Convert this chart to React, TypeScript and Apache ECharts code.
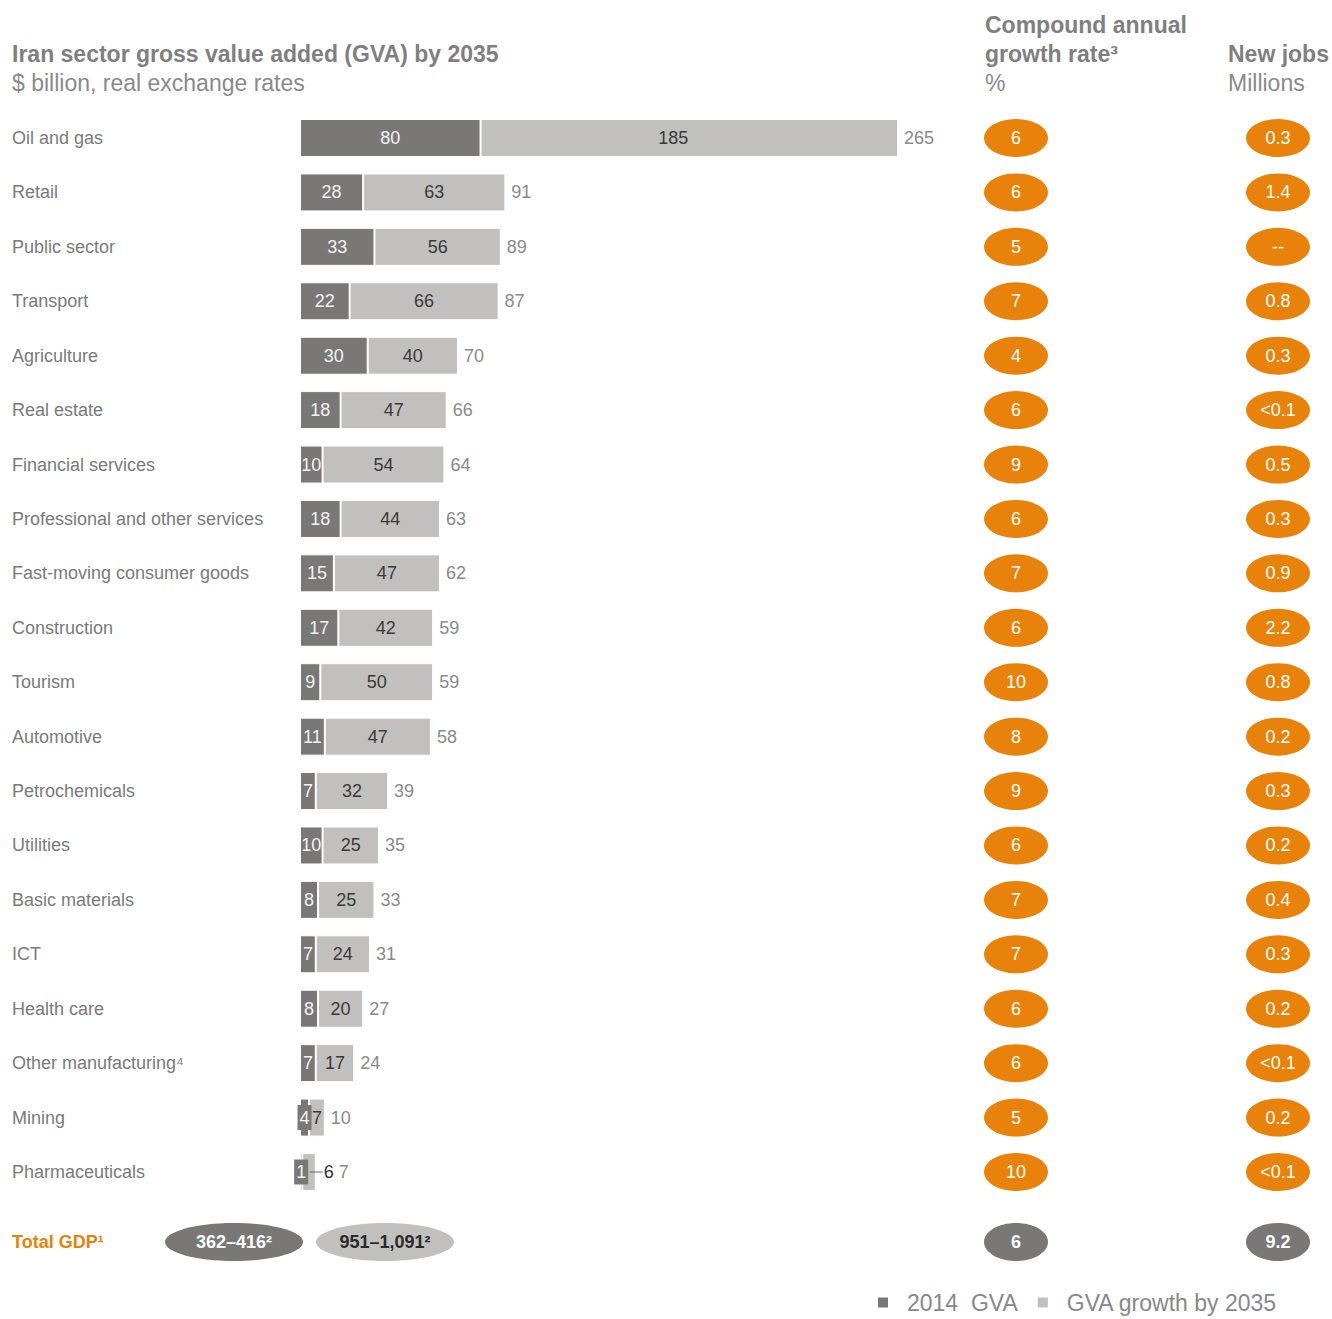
import React, { useEffect, useRef } from "react";
import * as echarts from "echarts";

const sectors = [
  "Oil and gas",
  "Retail",
  "Public sector",
  "Transport",
  "Agriculture",
  "Real estate",
  "Financial services",
  "Professional and other services",
  "Fast-moving consumer goods",
  "Construction",
  "Tourism",
  "Automotive",
  "Petrochemicals",
  "Utilities",
  "Basic materials",
  "ICT",
  "Health care",
  "Other manufacturing⁴",
  "Mining",
  "Pharmaceuticals",
];
const gva2014 = [80, 28, 33, 22, 30, 18, 10, 18, 15, 17, 9, 11, 7, 10, 8, 7, 8, 7, 4, 1];
const gvaGrowth = [185, 63, 56, 66, 40, 47, 54, 44, 47, 42, 50, 47, 32, 25, 25, 24, 20, 17, 7, 6];
const gva2035 = [265, 91, 89, 87, 70, 66, 64, 63, 62, 59, 59, 58, 39, 35, 33, 31, 27, 24, 10, 7];
const cagr = ["6", "6", "5", "7", "4", "6", "9", "6", "7", "6", "10", "8", "9", "6", "7", "7", "6", "6", "5", "10"];
const newJobs = ["0.3", "1.4", "--", "0.8", "0.3", "<0.1", "0.5", "0.3", "0.9", "2.2", "0.8", "0.2", "0.3", "0.2", "0.4", "0.3", "0.2", "<0.1", "0.2", "<0.1"];
const totalLabels = ["362–416²", "951–1,091²"];
const totalCagr = "6";
const totalJobs = "9.2";
const legendNames = ["2014  GVA", "GVA growth by 2035"];

const DARK = "#7a7876";
const LIGHT = "#c1c0be";
const ORANGE = "#e8820a";
const FONT = "'Liberation Sans', Arial, Helvetica, sans-serif";

export default function App() {
  const ref = useRef<HTMLDivElement>(null);

  useEffect(() => {
    document.body.style.margin = "0";
    const chart = echarts.init(ref.current!, null, { renderer: "svg" });

    const top = 110.8;
    const height = 1088.4;
    const n = sectors.length;

    const darkData = gva2014.map((v) => {
      const small = v <= 4;
      return {
        value: v,
        label: small
          ? {
              show: true,
              position: "inside",
              backgroundColor: DARK,
              padding: [4, 2, 3, 2],
              color: "#f2f2f2",
            }
          : undefined,
      };
    });

    const lightData = gvaGrowth.map((v, i) => {
      if (i === n - 1) {
        return {
          value: v,
          label: {
            show: true,
            position: "right",
            distance: -6,
            formatter: "{ln|}{v|" + v + "}",
            rich: {
              ln: { width: 13, height: 1, backgroundColor: "#666" },
              v: { fontSize: 18, color: "#333", fontFamily: FONT, padding: [0, 0, 0, 1] },
            },
          },
        };
      }
      if (i === 0) {
        return { value: v, label: { offset: [-16, 0] } };
      }
      return { value: v };
    });

    const totalData = gva2035.map((_, i) => ({
      value: 0,
      label: i === n - 1 ? { offset: [17, 0] } : undefined,
    }));

    const scatterData = sectors.map((_, i) => [0, i]);

    const ellipseScatter = (idx: number, texts: string[]) => ({
      type: "scatter",
      xAxisIndex: idx,
      yAxisIndex: idx,
      symbol: "circle",
      symbolSize: [64, 38],
      itemStyle: { color: ORANGE, opacity: 1 },
      label: {
        show: true,
        position: "inside",
        color: "#fff",
        fontSize: 18,
        fontFamily: FONT,
        formatter: (p: any) => texts[p.dataIndex],
      },
      data: scatterData,
      silent: true,
    });

    const headStyle = (text: string, bold: boolean) => ({
      text,
      fontSize: 23,
      fontWeight: bold ? "bold" : "normal",
      fill: bold ? "#7f7f7f" : "#8a8a8a",
      fontFamily: FONT,
      verticalAlign: "middle",
    });

    const totalText = (x: number, text: string, fill: string) => ({
      type: "text",
      x,
      y: 1242,
      style: {
        text,
        fontSize: 18,
        fontWeight: "bold",
        fill,
        align: "center",
        verticalAlign: "middle",
        fontFamily: FONT,
      },
    });

    const option: any = {
      animation: false,
      textStyle: { fontFamily: FONT },
      grid: [
        { left: 300, width: 677, top, height },
        { left: 984, width: 64, top, height },
        { left: 1246, width: 64, top, height },
      ],
      xAxis: [
        { type: "value", min: 0, max: 300, show: false, gridIndex: 0 },
        { type: "value", min: -1, max: 1, show: false, gridIndex: 1 },
        { type: "value", min: -1, max: 1, show: false, gridIndex: 2 },
      ],
      yAxis: [
        {
          type: "category",
          gridIndex: 0,
          data: sectors,
          inverse: true,
          axisLine: { show: false },
          axisTick: { show: false },
          axisLabel: {
            align: "left",
            margin: 288,
            fontSize: 18,
            color: "#7a7a7a",
            fontFamily: FONT,
          },
        },
        { type: "category", gridIndex: 1, data: sectors, inverse: true, show: false },
        { type: "category", gridIndex: 2, data: sectors, inverse: true, show: false },
      ],
      legend: {
        data: legendNames,
        left: 871,
        top: 1286,
        icon: "rect",
        itemWidth: 12,
        itemHeight: 12,
        itemGap: 18,
        selectedMode: false,
        textStyle: {
          fontSize: 23,
          color: "#888",
          fontFamily: FONT,
          padding: [0, 0, 0, 13],
        },
      },
      series: [
        {
          name: legendNames[0],
          type: "bar",
          stack: "gva",
          barWidth: 38,
          data: darkData,
          itemStyle: { color: DARK, borderColor: "#fff", borderWidth: 1 },
          label: {
            show: true,
            position: "inside",
            color: "#f2f2f2",
            fontSize: 18,
            fontFamily: FONT,
          },
        },
        {
          name: legendNames[1],
          type: "bar",
          stack: "gva",
          barWidth: 38,
          data: lightData,
          itemStyle: { color: LIGHT, borderColor: "#fff", borderWidth: 1 },
          label: {
            show: true,
            position: "inside",
            color: "#3a3a3a",
            fontSize: 18,
            fontFamily: FONT,
          },
        },
        {
          name: "total",
          type: "bar",
          stack: "gva",
          barWidth: 38,
          data: totalData,
          itemStyle: { color: "transparent" },
          label: {
            show: true,
            position: "right",
            distance: 6,
            color: "#8a8a8a",
            fontSize: 18,
            fontFamily: FONT,
            formatter: (p: any) => String(gva2035[p.dataIndex]),
          },
        },
        ellipseScatter(1, cagr),
        ellipseScatter(2, newJobs),
      ],
      graphic: [
        { type: "text", x: 12, y: 54, style: headStyle("Iran sector gross value added (GVA) by 2035", true) },
        { type: "text", x: 12, y: 83, style: headStyle("$ billion, real exchange rates", false) },
        { type: "text", x: 985, y: 25, style: headStyle("Compound annual", true) },
        { type: "text", x: 985, y: 54, style: headStyle("growth rate³", true) },
        { type: "text", x: 985, y: 83, style: headStyle("%", false) },
        { type: "text", x: 1228, y: 54, style: headStyle("New jobs", true) },
        { type: "text", x: 1228, y: 83, style: headStyle("Millions", false) },
        {
          type: "text",
          x: 12,
          y: 1242,
          style: {
            text: "Total GDP¹",
            fontSize: 18,
            fontWeight: "bold",
            fill: ORANGE,
            fontFamily: FONT,
            verticalAlign: "middle",
          },
        },
        { type: "ellipse", shape: { cx: 234, cy: 1242, rx: 69, ry: 19 }, style: { fill: DARK } },
        totalText(234, totalLabels[0], "#fff"),
        { type: "ellipse", shape: { cx: 385, cy: 1242, rx: 69, ry: 19 }, style: { fill: LIGHT } },
        totalText(385, totalLabels[1], "#2a2a2a"),
        { type: "ellipse", shape: { cx: 1016, cy: 1242, rx: 32, ry: 19 }, style: { fill: DARK } },
        totalText(1016, totalCagr, "#fff"),
        { type: "ellipse", shape: { cx: 1278, cy: 1242, rx: 32, ry: 19 }, style: { fill: DARK } },
        totalText(1278, totalJobs, "#fff"),
      ],
    };

    chart.setOption(option);
    return () => chart.dispose();
  }, []);

  return (
    <div
      ref={ref}
      style={{ position: "absolute", left: 0, top: 0, width: 1332, height: 1319 }}
    />
  );
}
